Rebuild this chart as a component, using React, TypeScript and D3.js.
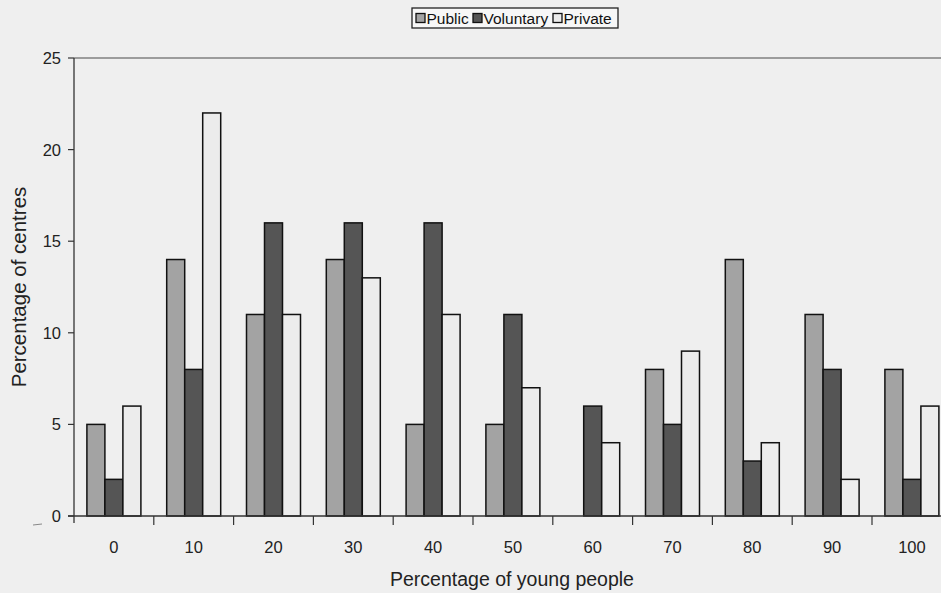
import React from "react";
import * as d3 from "d3";

// Share of young people among users, by decile
const categories = ["0", "10", "20", "30", "40", "50", "60", "70", "80", "90", "100"];
const seriesNames = ["Public", "Voluntary", "Private"];
const publicValues = [5, 14, 11, 14, 5, 5, 0, 8, 14, 11, 8];
const voluntaryValues = [2, 8, 16, 16, 16, 11, 6, 5, 3, 8, 2];
const privateValues = [6, 22, 11, 13, 11, 7, 4, 9, 4, 2, 6];
const yTicks = [0, 5, 10, 15, 20, 25];

const seriesValues = [publicValues, voluntaryValues, privateValues];
const fills = ["#a3a3a3", "#555555", "#ececec"];

const W = 941;
const H = 593;
const left = 74;
const bandW = 79.8;
const top = 58;
const bottom = 516;

export default function App() {
  const x = d3
    .scaleBand<string>()
    .domain(categories)
    .range([left, left + bandW * categories.length])
    .paddingInner(0)
    .paddingOuter(0);
  const inner = d3
    .scaleBand<string>()
    .domain(seriesNames)
    .range([0, 54]);
  const y = d3.scaleLinear().domain([0, 25]).range([bottom, top]);

  const font = "Arial, 'Liberation Sans', Helvetica, sans-serif";

  return (
    <svg
      width={W}
      height={H}
      style={{ position: "absolute", left: 0, top: 0, background: "#efefef" }}
      fontFamily={font}
    >
      <rect x={0} y={0} width={W} height={H} fill="#efefef" />

      {/* top frame line */}
      <line x1={left} x2={W} y1={top} y2={top} stroke="#4a4a4a" strokeWidth={1.2} />

      {/* bars */}
      {categories.map((c, i) => {
        const gx = (x(c) as number) + x.bandwidth() / 2 - 27;
        return (
          <g key={c}>
            {seriesNames.map((s, j) => {
              const v = seriesValues[j][i];
              if (v <= 0) return null;
              return (
                <rect
                  key={s}
                  x={gx + (inner(s) as number)}
                  y={y(v)}
                  width={inner.bandwidth()}
                  height={bottom - y(v)}
                  fill={fills[j]}
                  stroke="#111"
                  strokeWidth={1.5}
                />
              );
            })}
          </g>
        );
      })}

      {/* y axis */}
      <line x1={left} x2={left} y1={top} y2={bottom + 7} stroke="#333" strokeWidth={1.3} />
      {yTicks.map((t) => (
        <g key={t}>
          <line x1={left - 6} x2={left} y1={y(t)} y2={y(t)} stroke="#333" strokeWidth={1.2} />
          <text x={61} y={y(t)} dy="0.36em" textAnchor="end" fontSize={16.5} fill="#222">
            {t}
          </text>
        </g>
      ))}

      {/* x axis */}
      <line x1={left - 6} x2={W} y1={bottom} y2={bottom} stroke="#333" strokeWidth={1.3} />
      {categories.slice(1).map((c) => (
        <line
          key={c}
          x1={x(c) as number}
          x2={x(c) as number}
          y1={bottom}
          y2={bottom + 9}
          stroke="#333"
          strokeWidth={1.2}
        />
      ))}
      {categories.map((c) => (
        <text
          key={c}
          x={(x(c) as number) + x.bandwidth() / 2}
          y={553}
          textAnchor="middle"
          fontSize={16.5}
          fill="#222"
        >
          {c}
        </text>
      ))}

      {/* axis titles */}
      <text x={512} y={586} textAnchor="middle" fontSize={19.5} fill="#222">
        Percentage of young people
      </text>
      <text
        transform="translate(26,287) rotate(-90)"
        textAnchor="middle"
        fontSize={20.5}
        fill="#222"
      >
        Percentage of centres
      </text>

      {/* legend */}
      <g>
        <rect x={412} y={8} width={206} height={20} fill="#f7f7f7" stroke="#222" strokeWidth={1.3} />
        {seriesNames.map((s, j) => {
          const offs = [416, 473, 553];
          const sx = offs[j];
          return (
            <g key={s}>
              <rect x={sx} y={13.5} width={9} height={9} fill={fills[j]} stroke="#111" strokeWidth={1.3} />
              <text x={sx + 10.5} y={23.5} fontSize={15.5} fill="#111">
                {s}
              </text>
            </g>
          );
        })}
      </g>

      {/* stray mark near the origin */}
      <line x1={33} x2={42} y1={525} y2={524} stroke="#888" strokeWidth={1} />
    </svg>
  );
}
